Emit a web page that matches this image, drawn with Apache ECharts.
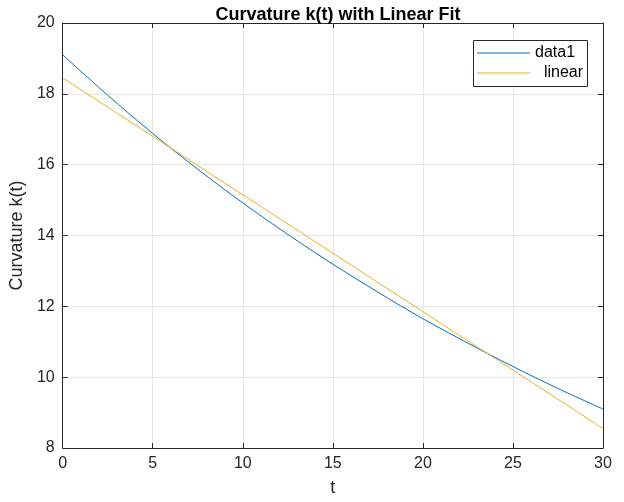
<!DOCTYPE html>
<html><head><meta charset="utf-8">
<script src="https://cdn.jsdelivr.net/npm/echarts@6/dist/echarts.min.js"></script>
<style>html,body{margin:0;padding:0;background:#fff}#c{width:624px;height:502px}</style>
</head><body><div id="c"></div>
<script>
const tValues = [0, 2.5, 5, 7.5, 10, 12.5, 15, 17.5, 20, 22.5, 25, 27.5, 30];
const curvature = [19.10, 17.96, 16.88, 15.87, 14.92, 14.03, 13.19, 12.40, 11.65, 10.96, 10.30, 9.68, 9.10];
const linearT = [0, 30];
const linearFit = [18.45, 8.55];
const xTicks = [0, 5, 10, 15, 20, 25, 30];
const yTicks = [8, 10, 12, 14, 16, 18, 20];

const font = 'Liberation Sans, Arial, Helvetica, sans-serif';
const axisColor = '#262626';
const chart = echarts.init(document.getElementById('c'));
const common = {
  axisLine: {show: true, onZero: false, lineStyle: {color: axisColor, width: 1}},
  axisTick: {show: true, inside: true, length: 5, lineStyle: {color: axisColor}},
};
chart.setOption({
  animation: false,
  backgroundColor: '#fff',
  title: {
    text: 'Curvature k(t) with Linear Fit',
    left: 333, top: 1, textAlign: 'center',
    textStyle: {fontFamily: font, fontSize: 18, fontWeight: 'bold', color: '#000'}
  },
  graphic: [{
    type: 'rect', left: 473, top: 40, z: 5,
    shape: {width: 114, height: 46},
    style: {fill: '#fff', stroke: axisColor, lineWidth: 1}
  }],
  legend: {
    left: 472, top: 41, orient: 'vertical', z: 10,
    icon: 'rect', itemWidth: 53, itemHeight: 1, itemGap: 4,
    padding: [4, 0, 0, 5],
    formatter: n => n === 'linear' ? '  linear' : n,
    textStyle: {fontFamily: font, fontSize: 16, color: '#000'},
    data: ['data1', 'linear']
  },
  grid: {left: 62, right: 21, top: 23, bottom: 51, containLabel: false},
  xAxis: [{
    type: 'value', min: 0, max: 30, interval: 5,
    name: 't', nameLocation: 'middle', nameGap: 31,
    nameTextStyle: {fontFamily: font, fontSize: 18, color: axisColor},
    axisLabel: {fontFamily: font, fontSize: 16, color: axisColor, margin: 8},
    splitLine: {show: true, lineStyle: {color: '#e6e6e6'}},
    ...common
  }, {
    type: 'value', min: 0, max: 30, interval: 5, position: 'top',
    axisLabel: {show: false}, splitLine: {show: false}, ...common
  }],
  yAxis: [{
    type: 'value', min: 8, max: 20, interval: 2,
    name: 'Curvature k(t)', nameLocation: 'middle', nameGap: 27,
    nameTextStyle: {fontFamily: font, fontSize: 18, color: axisColor},
    axisLabel: {fontFamily: font, fontSize: 16, color: axisColor, margin: 8},
    splitLine: {show: true, lineStyle: {color: '#e6e6e6'}},
    ...common
  }, {
    type: 'value', min: 8, max: 20, interval: 2, position: 'right',
    axisLabel: {show: false}, splitLine: {show: false}, ...common
  }],
  series: [{
    name: 'data1', type: 'line', symbol: 'none', smooth: 0.3,
    lineStyle: {color: '#0072BD', width: 1}, itemStyle: {color: '#0072BD'},
    data: tValues.map((t, i) => [t, curvature[i]])
  }, {
    name: 'linear', type: 'line', symbol: 'none',
    lineStyle: {color: '#EDB120', width: 1}, itemStyle: {color: '#EDB120'},
    data: linearT.map((t, i) => [t, linearFit[i]])
  }]
});
</script></body></html>
